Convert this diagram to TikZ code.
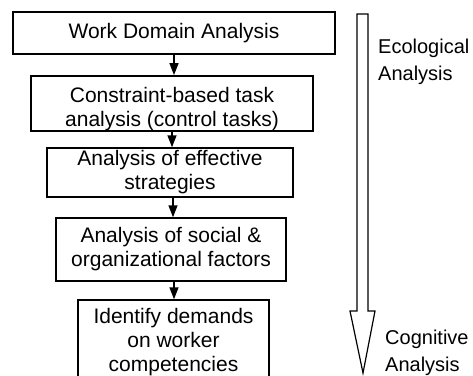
\documentclass[tikz,border=0pt]{standalone}
\usepackage{fontspec}
\setmainfont{Liberation Sans}
\usepackage{tikz}
\usetikzlibrary{arrows.meta}

\tikzset{
    stage/.style={draw, line width=1.5pt, align=center, inner sep=0pt, font=\fontsize{21}{24}\selectfont},
    flow/.style={-{Triangle[length=12pt, width=9pt]}, line width=1.5pt},
    side/.style={align=left, inner sep=0pt, anchor=base west, font=\fontsize{20}{27}\selectfont}
}

\begin{document}
\begin{tikzpicture}[x=1pt, y=-1pt]
    \useasboundingbox (0,0) rectangle (473,375);
    \clip (0,0) rectangle (473,375);
    % the five analysis stages
    \node[stage, minimum width=322pt, minimum height=42pt] (wda) at (174,33) {Work Domain Analysis};
    \node[stage, minimum width=282pt, minimum height=53pt, text height=51pt] (cta) at (172,103.5) {Constraint-based task\\analysis (control tasks)};
    \node[stage, minimum width=246pt, minimum height=49pt] (strat) at (170,172.5) {Analysis of effective\\strategies};
    \node[stage, minimum width=230pt, minimum height=63pt] (social) at (171,249.5) {Analysis of social \&\\organizational factors};
    \node[stage, minimum width=191pt, minimum height=85pt] (comp) at (173.5,342.5) {Identify demands\\on worker\\competencies};
    \draw[flow] (wda.south) -- (wda.south |- cta.north);
    \draw[flow] (cta.south) -- (cta.south |- strat.north);
    \draw[flow] ([xshift=3pt]strat.south) -- ([xshift=3pt]strat.south |- social.north);
    \draw[flow] ([xshift=3pt]social.south) -- ([xshift=3pt]social.south |- comp.north);
    % hollow arrow from ecological to cognitive
    \draw[line width=1.2pt] (357,14) -- (368,14) -- (368,311) -- (375,311) -- (363,373) -- (350,311) -- (357,311) -- cycle;
    \node[side] (eco) at (378,80) {Ecological\\Analysis};
    \node[side] (cog) at (385,371) {Cognitive\\Analysis};
\end{tikzpicture}
\end{document}
